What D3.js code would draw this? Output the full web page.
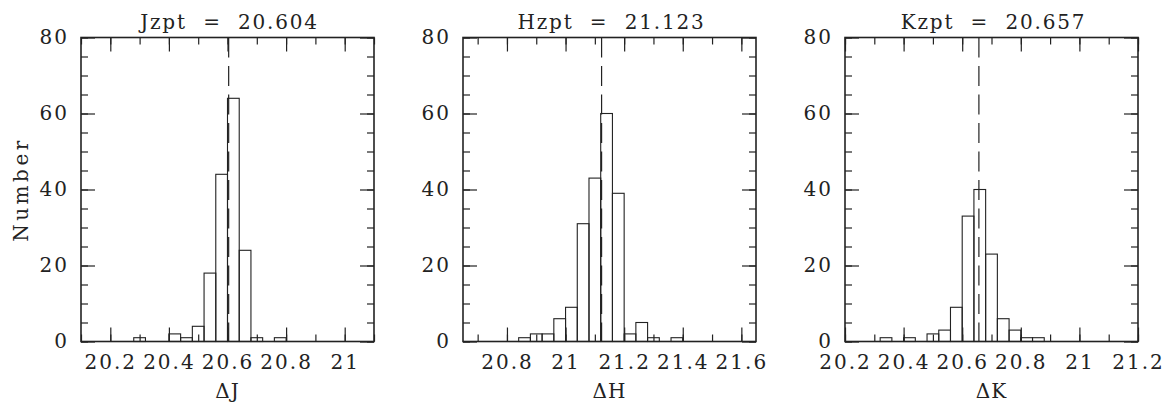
<!DOCTYPE html>
<html>
<head>
<meta charset="utf-8">
<script src="https://cdn.jsdelivr.net/npm/d3@7"></script>
<style>
  body { margin: 0; background: #fff; }
  text { font-family: "DejaVu Serif", serif; fill: #222; }
  .axis text { font-size: 20px; letter-spacing: 2px; }
  .axis line { stroke: #222; stroke-width: 1.2; }
  .frame { fill: none; stroke: #222; stroke-width: 1.6; }
  .bar { fill: none; stroke: #222; stroke-width: 1.1; }
  .zpt { stroke: #222; stroke-width: 1.2; stroke-dasharray: 20 8.5; }
  .title { white-space: pre; }
</style>
</head>
<body>
<div id="chart"></div>
<script>
const width = 1173;
const height = 403;

// bin lower edges (width 0.04) and counts
const binWidth = 0.04;

const jBins = [20.28, 20.40, 20.44, 20.48, 20.52, 20.56, 20.60, 20.64, 20.68, 20.76];
const jCounts = [1, 2, 1, 4, 18, 44, 64, 24, 1, 1];

const hBins = [20.84, 20.88, 20.92, 20.96, 21.00, 21.04, 21.08, 21.12, 21.16, 21.20, 21.24, 21.28, 21.36];
const hCounts = [1, 2, 2, 6, 9, 31, 43, 60, 39, 2, 5, 1, 1];

const kBins = [20.32, 20.40, 20.48, 20.52, 20.56, 20.60, 20.64, 20.68, 20.72, 20.76, 20.80, 20.84];
const kCounts = [1, 1, 2, 3, 9, 33, 40, 23, 6, 3, 1, 1];

const zeroPoints = [20.604, 21.123, 20.657];
const titles = ["Jzpt  =  20.604", "Hzpt  =  21.123", "Kzpt  =  20.657"];
const xLabels = ["\u0394J", "\u0394H", "\u0394K"];
const xDomains = [[20.1, 21.1], [20.65, 21.65], [20.2, 21.2]];
const xTicks = [
  [20.2, 20.4, 20.6, 20.8, 21],
  [20.8, 21, 21.2, 21.4, 21.6],
  [20.2, 20.4, 20.6, 20.8, 21, 21.2]
];
const yTicks = [0, 20, 40, 60, 80];

const panels = [
  { bins: jBins, counts: jCounts },
  { bins: hBins, counts: hCounts },
  { bins: kBins, counts: kCounts }
];

const panelLeft = [81, 463, 845];
const plotTop = 37.5;
const plotWidth = 293;
const plotHeight = 304;
const majorLen = 14;
const minorLen = 7;

const svg = d3
  .select("#chart")
  .append("svg")
  .attr("width", width)
  .attr("height", height);

const y = d3.scaleLinear().domain([0, 80]).range([plotHeight, 0]);
const yMinor = d3.range(0, 81, 5);

panels.forEach((p, i) => {
  const g = svg.append("g").attr("transform", `translate(${panelLeft[i]},${plotTop})`);
  const x = d3.scaleLinear().domain(xDomains[i]).range([0, plotWidth]);
  const [x0, x1] = xDomains[i];
  const xMinor = d3.range(Math.ceil(x0 * 10 - 1e-6), Math.floor(x1 * 10 + 1e-6) + 1).map((v) => v / 10);

  const data = p.bins.map((b, k) => ({ x0: b, x1: b + binWidth, n: p.counts[k] }));

  g.selectAll("rect.bar")
    .data(data)
    .join("rect")
    .attr("class", "bar")
    .attr("x", (d) => x(d.x0))
    .attr("y", (d) => y(d.n))
    .attr("width", (d) => x(d.x1) - x(d.x0))
    .attr("height", (d) => y(0) - y(d.n));

  // ticks on all four sides, pointing inward
  const addAxis = (axis, transform) => {
    const a = g.append("g").attr("class", "axis").attr("transform", transform).call(axis);
    a.select(".domain").remove();
    return a;
  };

  addAxis(d3.axisBottom(x).tickValues(xMinor).tickSize(-minorLen).tickFormat(""), `translate(0,${plotHeight})`);
  addAxis(d3.axisTop(x).tickValues(xMinor).tickSize(-minorLen).tickFormat(""), "translate(0,0)");
  addAxis(d3.axisTop(x).tickValues(xTicks[i]).tickSize(-majorLen).tickFormat(""), "translate(0,0)");
  addAxis(
    d3.axisBottom(x).tickValues(xTicks[i]).tickSize(-majorLen).tickPadding(13).tickFormat(d3.format("")),
    `translate(0,${plotHeight})`
  );

  addAxis(d3.axisRight(y).tickValues(yMinor).tickSize(-minorLen).tickFormat(""), `translate(${plotWidth},0)`);
  addAxis(d3.axisRight(y).tickValues(yTicks).tickSize(-majorLen).tickFormat(""), `translate(${plotWidth},0)`);
  addAxis(d3.axisLeft(y).tickValues(yMinor).tickSize(-minorLen).tickFormat(""), "translate(0,0)");
  addAxis(d3.axisLeft(y).tickValues(yTicks).tickSize(-majorLen).tickPadding(12), "translate(0,0)")
    .selectAll("text")
    .attr("dy", "0.3em");

  g.append("line")
    .attr("class", "zpt")
    .attr("x1", x(zeroPoints[i]))
    .attr("x2", x(zeroPoints[i]))
    .attr("y1", 0)
    .attr("y2", plotHeight);

  g.append("rect")
    .attr("class", "frame")
    .attr("width", plotWidth)
    .attr("height", plotHeight);

  g.append("text")
    .attr("class", "title")
    .attr("x", plotWidth / 2 + 2)
    .attr("y", 29 - plotTop)
    .attr("text-anchor", "middle")
    .attr("font-size", 20)
    .attr("letter-spacing", 1.8)
    .text(titles[i]);

  g.append("text")
    .attr("x", plotWidth / 2)
    .attr("y", 398 - plotTop)
    .attr("text-anchor", "middle")
    .attr("font-size", 20)
    .attr("letter-spacing", 1)
    .text(xLabels[i]);
});

svg
  .append("text")
  .attr("transform", `translate(28,${plotTop + plotHeight / 2}) rotate(-90)`)
  .attr("text-anchor", "middle")
  .attr("font-size", 20)
  .attr("letter-spacing", 3.5)
  .text("Number");
</script>
</body>
</html>
